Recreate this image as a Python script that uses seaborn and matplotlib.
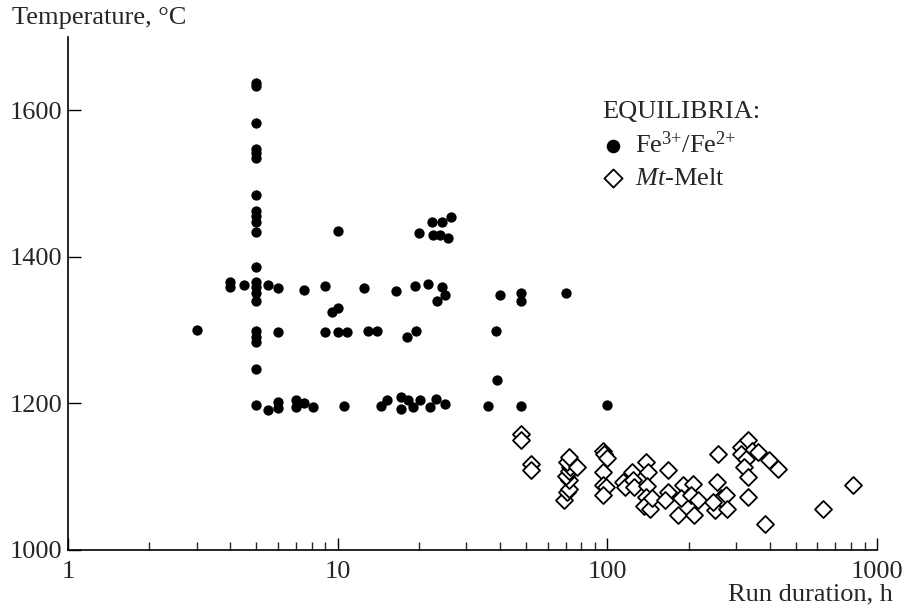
import numpy as np
import pandas as pd
import seaborn as sns
import matplotlib
matplotlib.use("Agg")
import matplotlib.pyplot as plt
from matplotlib.ticker import LogLocator, NullFormatter, FixedLocator

# ---- data ----
fe_hours = [3,
            4, 4, 4.5, 5.5, 6, 7.5, 9, 12.5, 16.5,
            5, 5, 5, 5, 5, 5, 5, 5, 5, 5, 5, 5, 5, 5, 5, 5, 5, 5, 5, 5, 5,
            19.3, 21.7, 24.3, 24.9, 23.3, 40, 48, 48, 70,
            6, 9, 9.5, 10, 10, 10.8, 13, 14, 18, 19.5, 38.5, 39,
            10, 20, 22.3, 24.3, 26.3, 22.6, 23.9, 25.7,
            5.5, 6, 6, 7, 7, 7.5, 8.1, 10.6, 14.5, 15.2,
            17.2, 17.2, 18.3, 19, 20.2, 22, 23.2, 24.9, 36.2, 48, 100]
fe_temp = [1300,
           1365, 1358, 1361, 1361, 1357, 1355, 1360, 1357, 1353,
           1637, 1633, 1583, 1547, 1541, 1535, 1484, 1462, 1455, 1448, 1434,
           1386, 1365, 1358, 1350, 1340, 1299, 1290, 1284, 1246, 1197,
           1360, 1363, 1359, 1347, 1340, 1348, 1350, 1340, 1350,
           1297, 1297, 1325, 1330, 1297, 1297, 1298, 1298, 1290, 1298, 1299, 1232,
           1435, 1432, 1447, 1447, 1454, 1429, 1429, 1426,
           1191, 1201, 1193, 1204, 1194, 1200, 1194, 1196, 1196, 1204,
           1208, 1192, 1204, 1194, 1204, 1194, 1206, 1199, 1196, 1196, 1197]

mt_hours = [48, 48, 52, 52,
            69, 71, 72, 72, 70, 72, 73, 71, 72, 77,
            96, 97, 100, 96, 96, 99, 96,
            114, 116, 123, 124, 126,
            139, 141, 140, 139, 137, 144, 147,
            168, 168, 163,
            190, 188, 183, 207, 204, 210, 217,
            257, 256, 250, 264, 275, 278, 246,
            313, 332, 344, 313, 361, 327, 322, 332, 332,
            399, 429, 383, 629, 813]
mt_temp = [1158, 1150, 1117, 1109,
           1068, 1078, 1083, 1095, 1101, 1107, 1113, 1120, 1127, 1113,
           1135, 1131, 1125, 1106, 1088, 1085, 1074,
           1092, 1086, 1106, 1095, 1085,
           1120, 1106, 1087, 1072, 1060, 1056, 1070,
           1108, 1078, 1067,
           1088, 1070, 1047, 1090, 1074, 1047, 1067,
           1131, 1092, 1054, 1070, 1074, 1056, 1065,
           1140, 1149, 1135, 1131, 1133, 1124, 1113, 1099, 1072,
           1122, 1110, 1035, 1056, 1088]

x_ticks = [1, 10, 100, 1000]
x_tick_labels = ["1", "10", "100", "1000"]
y_ticks = [1000, 1200, 1400, 1600]
y_tick_labels = ["1000", "1200", "1400", "1600"]

fe_df = pd.DataFrame({"hours": fe_hours, "temp": fe_temp})
mt_df = pd.DataFrame({"hours": mt_hours, "temp": mt_temp})

# ---- style ----
sns.set_style("ticks")
plt.rcParams["font.family"] = ["Liberation Serif", "DejaVu Serif"]
plt.rcParams["mathtext.fontset"] = "custom"
plt.rcParams["mathtext.rm"] = "Liberation Serif"
plt.rcParams["mathtext.it"] = "Liberation Serif:italic"
plt.rcParams["mathtext.bf"] = "Liberation Serif:bold"

FS = 19

fig = plt.figure(figsize=(9.05, 6.08), dpi=100)
ax = fig.add_axes([68 / 905, (608 - 549.5) / 608, (877 - 68) / 905, (549.5 - 37) / 608])

sns.scatterplot(data=fe_df, x="hours", y="temp", ax=ax, marker="o", s=55,
                color="black", edgecolor="black", linewidth=0,
                label=r"Fe$^{3{+}}$/Fe$^{2{+}}$")
sns.scatterplot(data=mt_df, x="hours", y="temp", ax=ax, marker="D", s=75,
                facecolor="white", edgecolor="black", linewidth=1.3,
                label=r"$\mathit{Mt}$-Melt")

ax.set_xscale("log")
ax.set_xlim(1, 1000)
ax.set_ylim(1000, 1700)

ax.xaxis.set_major_locator(FixedLocator(x_ticks))
ax.set_xticklabels(x_tick_labels)
ax.xaxis.set_minor_locator(LogLocator(base=10, subs=np.arange(2, 10)))
ax.xaxis.set_minor_formatter(NullFormatter())
ax.set_yticks(y_ticks)
ax.set_yticklabels(y_tick_labels)

ax.tick_params(axis="both", which="major", direction="in", length=9, width=1,
               labelsize=FS, color="black")
ax.tick_params(axis="x", which="minor", direction="in", length=6, width=1)
ax.tick_params(axis="x", which="major", pad=8)
ax.tick_params(axis="y", which="major", pad=4)

for side in ["top", "right"]:
    ax.spines[side].set_visible(False)
for side in ["left", "bottom"]:
    ax.spines[side].set_linewidth(1.2)
    ax.spines[side].set_color("black")

ax.set_xlabel("Run duration, h", fontsize=FS, ha="right", va="center")
ax.xaxis.set_label_coords((893 - 68) / 809, (549.5 - 594) / 512.5)
ax.set_ylabel("Temperature, °C", fontsize=FS, rotation=0, ha="left", va="center")
ax.yaxis.set_label_coords((12 - 68) / 809, (549.5 - 18) / 512.5)

leg = ax.legend(loc="upper left", bbox_to_anchor=((602 - 68) / 809, (549.5 - 101) / 512.5),
                title="EQUILIBRIA:", frameon=False, fontsize=FS, title_fontsize=FS,
                handlelength=0.8, handletextpad=0.45, labelspacing=0.32,
                borderpad=0, borderaxespad=0, alignment="left", markerscale=1.0)
handles = leg.legend_handles
handles[0].set_sizes([95])
handles[1].set_sizes([85])

fig.savefig("out.png", dpi=100)
